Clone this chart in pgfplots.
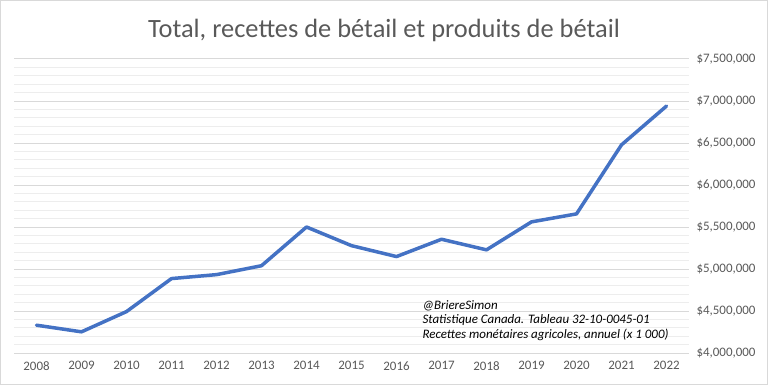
\documentclass[border=0pt]{standalone}
\usepackage{pgfplots}
\pgfplotsset{compat=1.18}
\usepackage{fontspec}
\setmainfont{Carlito}
\definecolor{txtgrey}{HTML}{595959}
\definecolor{linecol}{HTML}{4472C4}
\definecolor{majgrid}{HTML}{D9D9D9}
\definecolor{mingrid}{HTML}{EDEDED}
\definecolor{bordergrey}{HTML}{D9D9D9}
\begin{document}
\begin{tikzpicture}[x=1bp,y=1bp]
\useasboundingbox (0,0) rectangle (768,385);
\draw[bordergrey, line width=1bp] (0.5,0.5) rectangle (767.5,384.5);
\node[txtgrey, font=\fontsize{26.5}{30}\selectfont, anchor=base] at (384,348) {Total, recettes de bétail et produits de bétail};
\begin{axis}[
  at={(14bp,32bp)}, anchor=south west,
  scale only axis, width=675bp, height=294bp,
  xmin=-0.5, xmax=14.5, ymin=4000000, ymax=7500000,
  xtick={0,...,14},
  xticklabels={2008,2009,2010,2011,2012,2013,2014,2015,2016,2017,2018,2019,2020,2021,2022},
  ytick={4000000,4500000,5000000,5500000,6000000,6500000,7000000,7500000},
  minor y tick num=4,
  ymajorgrids, yminorgrids,
  major grid style={majgrid, line width=1bp},
  minor grid style={mingrid, line width=1bp},
  axis line style={draw=none},
  major tick length=0pt, minor tick length=0pt,
  tick style={draw=none},
  yticklabel pos=right,
  scaled y ticks=false,
  /pgf/number format/assume math mode=true,
  yticklabel={\$\pgfmathprintnumber[fixed,1000 sep={,},precision=0]{\tick}},
  ticklabel style={font=\fontsize{13}{15}\selectfont, text=txtgrey},
  yticklabel style={xshift=4bp},
  xticklabel style={yshift=-5bp},
]
\addplot[linecol, line width=3.5bp, line join=round, line cap=round] coordinates {
(0,4331000) (1,4252000) (2,4493000) (3,4886000) (4,4933000) (5,5039000)
(6,5500000) (7,5278000) (8,5148000) (9,5354000) (10,5228000) (11,5561000)
(12,5656000) (13,6478000) (14,6940000)
};
\end{axis}
\node[anchor=base west, font=\fontsize{13}{15}\selectfont\itshape] at (419,76) {@BriereSimon};
\node[anchor=base west, font=\fontsize{13}{15}\selectfont\itshape] at (419,61.5) {Statistique Canada. Tableau 32-10-0045-01};
\node[anchor=base west, font=\fontsize{13}{15}\selectfont\itshape] at (419,47) {Recettes monétaires agricoles, annuel (x 1 000)};
\end{tikzpicture}
\end{document}
